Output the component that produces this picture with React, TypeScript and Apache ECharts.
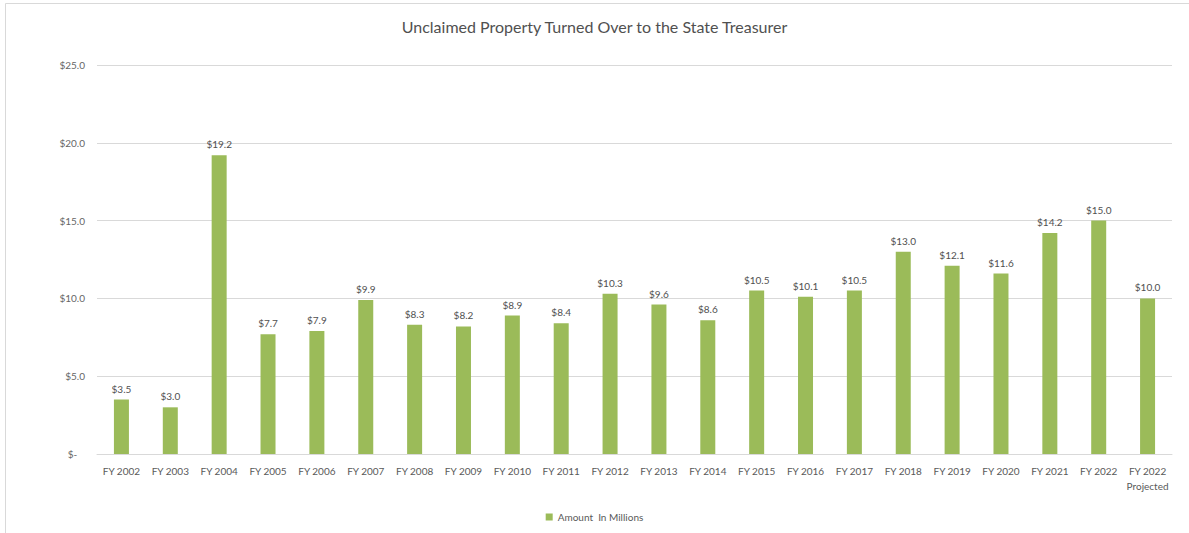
import React, { useEffect, useRef } from "react";
import * as echarts from "echarts";

const categories = [
  "FY 2002", "FY 2003", "FY 2004", "FY 2005", "FY 2006", "FY 2007", "FY 2008",
  "FY 2009", "FY 2010", "FY 2011", "FY 2012", "FY 2013", "FY 2014", "FY 2015",
  "FY 2016", "FY 2017", "FY 2018", "FY 2019", "FY 2020", "FY 2021", "FY 2022",
  "FY 2022\nProjected",
];
const amounts = [
  3.5, 3.0, 19.2, 7.7, 7.9, 9.9, 8.3, 8.2, 8.9, 8.4, 10.3, 9.6, 8.6, 10.5,
  10.1, 10.5, 13.0, 12.1, 11.6, 14.2, 15.0, 10.0,
];
const seriesName = "Amount  In Millions";
const title = "Unclaimed Property Turned Over to the State Treasurer";

export default function App() {
  const ref = useRef<HTMLDivElement>(null);
  useEffect(() => {
    if (!ref.current) return;
    const chart = echarts.init(ref.current, null, { renderer: "svg" });
    const font = "Lato, 'Open Sans', sans-serif";
    chart.setOption({
      animation: false,
      backgroundColor: "#ffffff",
      textStyle: { fontFamily: font },
      title: {
        text: title,
        left: "center",
        top: 13,
        textStyle: { fontSize: 16, fontWeight: "normal", color: "#505050", fontFamily: font },
      },
      graphic: [
        {
          type: "rect",
          shape: { x: 5.5, y: 3.5, width: 1300, height: 700 },
          style: { fill: "none", stroke: "#d9d9d9", lineWidth: 1 },
          silent: true,
        },
      ],
      legend: {
        bottom: 6,
        left: "center",
        itemWidth: 7,
        itemHeight: 7,
        icon: "rect",
        textStyle: { fontSize: 10, color: "#595959", fontFamily: font },
        data: [seriesName],
      },
      grid: { left: 97, right: 17, top: 65, bottom: 79, containLabel: false },
      xAxis: {
        type: "category",
        data: categories,
        axisLine: { show: true, lineStyle: { color: "#d9d9d9" } },
        axisTick: { show: false },
        axisLabel: {
          interval: 0,
          color: "#595959",
          fontSize: 10,
          margin: 9,
          lineHeight: 15,
          fontFamily: font,
        },
      },
      yAxis: {
        type: "value",
        min: 0,
        max: 25,
        interval: 5,
        axisLine: { show: false },
        axisTick: { show: false },
        splitLine: { lineStyle: { color: "#d9d9d9" } },
        axisLabel: {
          color: "#666666",
          fontSize: 10,
          margin: 12,
          fontFamily: font,
          formatter: (v: number) => (v === 0 ? "$-   " : "$" + v.toFixed(1)),
        },
      },
      series: [
        {
          name: seriesName,
          type: "bar",
          data: amounts,
          barWidth: 15,
          itemStyle: { color: "#9bbb59" },
          label: {
            show: true,
            position: "top",
            distance: 6,
            color: "#505050",
            fontSize: 10,
            fontFamily: font,
            formatter: (p: any) => "$" + Number(p.value).toFixed(1),
          },
        },
      ],
    });
    return () => chart.dispose();
  }, []);
  return (
    <div
      ref={ref}
      style={{ position: "fixed", left: 0, top: 0, width: 1189, height: 533 }}
    />
  );
}
